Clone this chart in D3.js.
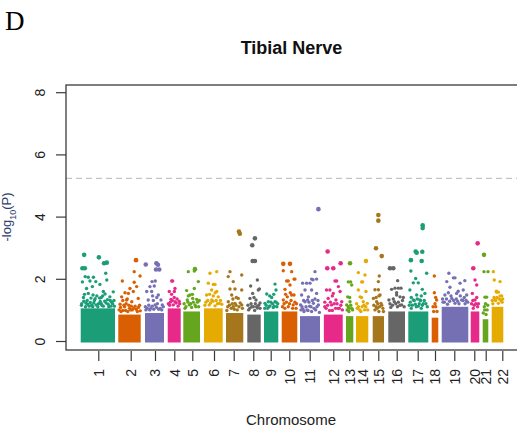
<!DOCTYPE html>
<html>
<head>
<meta charset="utf-8">
<script src="https://cdn.jsdelivr.net/npm/d3@7"></script>
<style>
  html, body { margin: 0; padding: 0; background: #fff; }
  svg { display: block; font-family: "Liberation Sans", Arial, sans-serif; }
</style>
</head>
<body>
<svg id="chart" width="517" height="436"></svg>
<script>
// Chromosome layout (cumulative genomic index units)
const chromosomes = ["1","2","3","4","5","6","7","8","9","10","11","12","13","14","15","16","17","18","19","20","21","22"];
const chromStart = [0, 263, 450, 609, 718, 863, 1017, 1166, 1283, 1407, 1535, 1702, 1857, 1927, 2044, 2153, 2293, 2457, 2527, 2730, 2814, 2877];
const chromEnd   = [240, 420, 583, 700, 835, 994, 1138, 1260, 1383, 1516, 1675, 1834, 1908, 2013, 2123, 2270, 2433, 2503, 2713, 2790, 2853, 2958];
const tickPos    = [123, 350, 520, 655, 781, 933, 1071, 1208, 1330, 1460, 1603, 1768, 1880, 1974, 2083, 2212, 2359, 2480, 2615, 2755, 2835, 2951];

// Upper limit of the densely packed bulk of SNPs per chromosome (-log10 P)
const denseTop = [1.05, 0.85, 0.9, 1.05, 0.95, 1.05, 0.9, 0.85, 0.95, 0.95, 0.8, 0.85, 0.8, 0.8, 0.8, 0.95, 0.95, 0.75, 1.1, 0.95, 0.7, 1.1];

// Individual SNPs above the bulk: [relative position within chromosome, -log10 P]
const chromHits = [
  [[.10,2.77],[.53,2.69],[.68,2.50],[.76,2.52],[.05,2.34],[.12,2.34],[.73,2.18],[.13,2.07],[.22,2.05],[.37,2.05],[.05,1.90],[.27,1.93],[.44,1.91],[.76,1.96],[.56,1.82],[.17,1.69],[.34,1.75],[.66,1.59],[.71,1.51],[.95,1.58],[.22,1.53],[.47,1.45],[.60,1.40],[.08,1.40],[.30,1.38],[.85,1.42],[.40,1.30],[.90,1.25],[.15,1.22],[.52,1.20],[.70,1.28],[.02,1.15],[.98,1.12],[.25,1.12],[.62,1.15],[.80,1.18],[.35,1.10],[.45,1.16],[.88,1.12],[.57,1.27],[.19,1.30],[.78,1.33]],
  [[.79,2.60],[.71,2.23],[.97,2.09],[.18,1.93],[.71,1.89],[.52,1.69],[.82,1.75],[.30,1.55],[.45,1.53],[.67,1.59],[.15,1.42],[.89,1.37],[.37,1.32],[.60,1.26],[.08,1.18],[.25,1.15],[.75,1.12],[.95,1.15],[.50,1.05],[.33,0.98],[.85,0.95],[.12,0.95],[.62,1.00]],
  [[.04,2.46],[.60,2.50],[.68,2.45],[.75,2.30],[.58,2.30],[.37,1.91],[.54,1.93],[.26,1.75],[.49,1.77],[.09,1.59],[.35,1.59],[.70,1.48],[.84,1.32],[.17,1.32],[.53,1.16],[.91,1.16],[.30,1.05],[.72,1.02],[.05,1.00],[.44,1.30]],
  [[.31,1.93],[.38,1.93],[.56,1.69],[.51,1.59],[.12,1.59],[.25,1.34],[.56,1.26],[.43,1.16],[.80,1.12],[.15,1.15],[.92,1.20]],
  [[.30,2.23],[.70,2.31],[.66,2.25],[.90,1.91],[.66,1.69],[.20,1.62],[.40,1.48],[.56,1.37],[.80,1.34],[.24,1.32],[.70,1.16],[.36,1.16],[.50,1.08],[.10,1.05],[.92,1.10]],
  [[.32,2.18],[.68,2.23],[.23,1.86],[.50,1.82],[.59,1.82],[.68,1.59],[.41,1.64],[.14,1.48],[.76,1.42],[.41,1.32],[.82,1.21],[.28,1.16],[.59,1.13],[.05,1.15],[.95,1.18]],
  [[.75,3.52],[.80,3.45],[.23,2.23],[.13,2.07],[.91,2.12],[.42,1.91],[.23,1.67],[.52,1.67],[.91,1.64],[.33,1.48],[.71,1.37],[.13,1.26],[.52,1.21],[.91,1.16],[.30,1.05],[.65,1.00],[.05,0.98],[.42,1.10]],
  [[.57,3.30],[.37,3.08],[.40,2.57],[.57,2.57],[.75,1.96],[.25,1.77],[.90,1.67],[.82,1.64],[.40,1.53],[.20,1.37],[.65,1.32],[.95,1.22],[.33,1.10],[.75,1.06],[.10,1.00],[.55,0.98]],
  [[.77,1.83],[.84,1.64],[.19,1.51],[.54,1.40],[.30,1.26],[.77,1.26],[.42,1.13],[.65,1.08],[.07,1.21],[.90,1.10],[.25,1.05]],
  [[.10,2.48],[.53,2.48],[.10,2.26],[.64,2.23],[.32,1.93],[.42,1.93],[.79,1.99],[.85,1.99],[.21,1.66],[.53,1.80],[.64,1.48],[.79,1.48],[.36,1.42],[.10,1.32],[.74,1.16],[.42,1.10],[.95,1.20],[.20,1.05]],
  [[.92,4.24],[.75,2.23],[.58,1.99],[.83,1.99],[.65,1.97],[.33,1.86],[.13,1.86],[.50,1.86],[.25,1.64],[.58,1.64],[.08,1.48],[.42,1.42],[.83,1.53],[.25,1.26],[.67,1.21],[.92,1.16],[.03,1.16],[.48,1.12],[.15,1.02],[.35,1.00],[.58,0.95],[.78,1.00],[.97,0.92]],
  [[.20,2.88],[.18,2.34],[.50,2.34],[.89,2.50],[.59,1.93],[.68,1.93],[.32,1.64],[.77,1.75],[.14,1.64],[.50,1.53],[.86,1.59],[.23,1.37],[.64,1.32],[.95,1.26],[.41,1.16],[.05,1.10],[.75,1.05],[.30,0.98]],
  [[.55,2.50],[.32,1.90],[.64,1.90],[.78,1.80],[.23,1.42],[.55,1.26],[.10,1.16],[.80,1.05],[.40,0.95]],
  [[.81,2.57],[.19,2.20],[.73,2.12],[.46,1.90],[.54,1.90],[.19,1.64],[.81,1.59],[.33,1.42],[.59,1.26],[.92,1.21],[.10,1.05],[.70,1.00],[.40,0.95]],
  [[.50,4.05],[.50,3.87],[.29,2.98],[.80,2.73],[.58,2.09],[.50,1.91],[.20,1.65],[.50,1.65],[.65,1.48],[.06,1.37],[.35,1.26],[.73,1.21],[.90,1.05],[.20,1.00],[.55,0.95]],
  [[.10,2.34],[.30,2.34],[.56,1.94],[.40,1.70],[.60,1.70],[.76,1.70],[.20,1.66],[.50,1.48],[.70,1.42],[.04,1.32],[.36,1.26],[.80,1.16],[.95,1.10],[.15,1.08],[.55,1.10]],
  [[.72,3.72],[.72,3.63],[.37,2.88],[.42,2.84],[.70,2.87],[.13,2.60],[.67,2.57],[.13,2.25],[.92,2.18],[.37,2.01],[.50,1.87],[.25,1.87],[.70,1.66],[.08,1.64],[.83,1.53],[.42,1.48],[.25,1.32],[.58,1.32],[.05,1.15],[.35,1.18],[.50,1.12],[.75,1.20],[.95,1.10],[.15,1.05],[.65,1.05]],
  [[.40,2.09],[.40,1.55],[.75,1.32],[.60,1.10],[.30,0.95]],
  [[.27,2.18],[.50,2.03],[.44,2.03],[.87,1.94],[.19,1.91],[.69,1.86],[.31,1.73],[.81,1.64],[.56,1.53],[.12,1.48],[.94,1.48],[.38,1.37],[.75,1.32],[.50,1.21],[.05,1.25],[.65,1.20],[.22,1.18],[.88,1.20]],
  [[.81,3.14],[.30,2.34],[.50,1.96],[.70,1.80],[.19,1.53],[.50,1.32],[.80,1.10],[.30,1.05]],
  [[.23,2.77],[.23,2.23],[.95,2.23],[.70,1.41],[.40,1.41],[.29,1.10],[.60,0.85]],
  [[.14,2.23],[.72,1.91],[.22,1.96],[.43,1.57],[.57,1.57],[.72,1.45],[.86,1.45],[.28,1.32],[.57,1.21],[.10,1.20],[.90,1.25]]
];

// SNPs crowding the upper edge of each bulk: [relative position, -log10 P]
const edgeHits = [
  [[.03,1.2],[.09,1.28],[.14,1.1],[.2,1.18],[.28,1.24],[.32,1.15],[.38,1.22],[.42,1.36],[.5,1.1],[.55,1.38],[.6,1.2],[.66,1.12],[.74,1.22],[.82,1.1],[.86,1.3],[.93,1.2],[.97,1.3],[.11,1.5],[.36,1.48],[.64,1.45]],
  [[.04,1.0],[.1,1.08],[.2,0.98],[.28,1.1],[.35,1.2],[.42,0.95],[.47,1.15],[.55,1.0],[.58,1.12],[.68,1.05],[.8,1.02],[.9,1.08],[.98,0.97],[.4,1.35],[.2,1.3]],
  [[.02,1.1],[.12,1.05],[.2,1.15],[.25,1.0],[.38,1.12],[.46,1.02],[.6,1.08],[.65,1.2],[.8,1.05],[.88,1.0],[.96,1.1],[.62,1.4],[.4,1.45]],
  [[.05,1.2],[.2,1.25],[.35,1.3],[.5,1.4],[.65,1.22],[.72,1.35],[.88,1.28],[.3,1.5]],
  [[.05,1.2],[.16,1.1],[.28,1.25],[.45,1.2],[.6,1.25],[.75,1.1],[.85,1.25],[.95,1.3],[.55,1.5],[.3,1.45]],
  [[.1,1.25],[.2,1.3],[.35,1.22],[.48,1.28],[.5,1.45],[.65,1.3],[.72,1.2],[.88,1.3],[.3,1.5],[.6,1.55]],
  [[.1,1.1],[.2,1.15],[.36,1.2],[.48,1.02],[.58,1.15],[.75,1.1],[.82,1.22],[.95,1.05],[.6,1.4],[.4,1.35]],
  [[.05,1.15],[.18,1.05],[.28,1.2],[.45,1.1],[.6,1.2],[.7,1.1],[.85,1.15],[.95,1.05],[.5,1.4]],
  [[.05,1.05],[.15,1.15],[.35,1.1],[.48,1.25],[.6,1.2],[.72,1.12],[.85,1.25],[.96,1.2],[.4,1.45],[.68,1.5]],
  [[.05,1.1],[.15,1.2],[.3,1.25],[.5,1.2],[.6,1.3],[.7,1.05],[.85,1.25],[.92,1.05],[.25,1.5],[.55,1.55]],
  [[.05,1.0],[.1,1.1],[.2,0.95],[.3,1.1],[.4,0.98],[.45,1.25],[.55,1.1],[.62,1.3],[.7,1.05],[.75,1.35],[.85,1.1],[.9,1.3],[.18,1.3],[.38,1.32]],
  [[.05,1.25],[.12,1.05],[.2,1.15],[.35,1.25],[.45,0.98],[.55,1.2],[.62,1.05],[.7,1.2],[.82,1.05],[.9,1.15],[.98,1.0],[.45,1.45]],
  [[.15,1.0],[.3,1.1],[.45,1.05],[.65,1.15],[.9,1.0],[.5,1.4]],
  [[.05,1.2],[.2,1.1],[.3,1.0],[.5,1.1],[.65,1.15],[.8,1.1],[.95,1.0],[.45,1.4]],
  [[.1,1.15],[.3,1.1],[.4,1.05],[.45,1.2],[.6,1.1],[.8,1.15],[.95,0.95],[.3,1.4],[.55,1.45]],
  [[.1,1.2],[.25,1.15],[.3,1.35],[.45,1.2],[.6,1.25],[.7,1.15],[.85,1.3],[.5,1.55],[.9,1.4]],
  [[.1,1.25],[.2,1.15],[.3,1.3],[.4,1.1],[.45,1.35],[.55,1.2],[.62,1.3],[.7,1.15],[.8,1.3],[.88,1.2],[.15,1.4],[.65,1.45]],
  [[.2,1.1],[.5,1.2],[.8,0.95],[.6,1.4]],
  [[.03,1.35],[.1,1.25],[.18,1.35],[.3,1.28],[.35,1.45],[.45,1.3],[.55,1.35],[.6,1.28],[.7,1.45],[.8,1.3],[.85,1.4],[.92,1.3],[.98,1.25],[.25,1.55],[.62,1.6]],
  [[.1,1.2],[.25,1.3],[.4,1.15],[.6,1.2],[.7,1.4],[.9,1.2]],
  [[.1,0.9],[.35,1.0],[.5,1.2],[.8,1.0],[.9,1.15]],
  [[.05,1.3],[.2,1.4],[.35,1.3],[.45,1.4],[.65,1.35],[.8,1.3],[.95,1.35],[.4,1.6]]
];

const yTicks = [0, 2, 4, 6, 8];
const suggestiveLine = 5.23;
const palette = ["#1B9E77", "#D95F02", "#7570B3", "#E7298A", "#66A61E", "#E6AB02", "#A6761D", "#666666"];

const svg = d3.select("#chart");
svg.append("rect").attr("width", 517).attr("height", 436).attr("fill", "#fff");

const box = { left: 66, right: 520, top: 85, bottom: 350 };
const x = d3.scaleLinear().domain([-103, 3075]).range([box.left, box.right]);
const y = d3.scaleLinear().domain([0, 8]).range([341, 92.2]);
const color = i => palette[i % palette.length];

// Panel letter and title
svg.append("text").attr("x", 5).attr("y", 30)
  .style("font-family", "'Liberation Serif', 'Times New Roman', serif")
  .style("font-size", "27px").attr("fill", "#000").text("D");
svg.append("text").attr("x", 291.5).attr("y", 54).attr("text-anchor", "middle")
  .style("font-size", "18px").style("font-weight", "bold").attr("fill", "#111").text("Tibial Nerve");

// Suggestive significance line
svg.append("line")
  .attr("x1", box.left).attr("x2", box.right)
  .attr("y1", y(suggestiveLine)).attr("y2", y(suggestiveLine))
  .attr("stroke", "#c4c4c4").attr("stroke-width", 1.2).attr("stroke-dasharray", "6,4");

// Dense bulk of SNPs per chromosome
const chromIdx = d3.range(chromosomes.length);
svg.append("g").selectAll("rect").data(chromIdx).join("rect")
  .attr("x", i => x(chromStart[i]))
  .attr("width", i => x(chromEnd[i]) - x(chromStart[i]))
  .attr("y", i => y(denseTop[i]))
  .attr("height", i => y(0) + 1.5 - y(denseTop[i]))
  .attr("fill", i => color(i));

// Individual SNPs
const toSnp = i => ([f, v]) => ({
  chrom: i,
  pos: chromStart[i] + f * (chromEnd[i] - chromStart[i]),
  logp: v
});
const snps = chromIdx.flatMap(i => edgeHits[i].map(toSnp(i)).concat(chromHits[i].map(toSnp(i))));
svg.append("g").selectAll("circle").data(snps).join("circle")
  .attr("cx", d => x(d.pos))
  .attr("cy", d => y(d.logp))
  .attr("r", d => d.logp >= 2.3 ? 2.3 : 1.7)
  .attr("fill", d => color(d.chrom));

// Plot frame
svg.append("rect")
  .attr("x", box.left).attr("y", box.top)
  .attr("width", box.right - box.left).attr("height", box.bottom - box.top)
  .attr("fill", "none").attr("stroke", "#3a3a3a").attr("stroke-width", 1.3);

// Y axis
const yAxis = svg.append("g").attr("transform", `translate(${box.left},0)`)
  .call(d3.axisLeft(y).tickValues(yTicks).tickSize(10).tickFormat(d3.format("d")));
yAxis.select(".domain").remove();
yAxis.selectAll("line").attr("stroke", "#3a3a3a").attr("stroke-width", 1.2);
yAxis.selectAll("text")
  .attr("x", null).attr("dy", null)
  .attr("transform", "translate(-21.5,0) rotate(-90)")
  .attr("text-anchor", "middle")
  .style("font-size", "14px").style("font-family", "'Liberation Sans', Arial, sans-serif")
  .attr("fill", "#222");

// X axis
const xAxis = svg.append("g").attr("transform", `translate(0,${box.bottom + 1})`)
  .call(d3.axisBottom(x).tickValues(tickPos).tickSize(10).tickFormat((d, i) => chromosomes[i]));
xAxis.select(".domain").remove();
xAxis.selectAll("line").attr("stroke", "#3a3a3a").attr("stroke-width", 1.2);
xAxis.selectAll("text")
  .attr("y", null).attr("dy", "0.35em")
  .attr("transform", "translate(0,18) rotate(-90)")
  .attr("text-anchor", "end")
  .style("font-size", "14px").style("font-family", "'Liberation Sans', Arial, sans-serif")
  .attr("fill", "#222");

// Axis titles
svg.append("text").attr("x", 291).attr("y", 425).attr("text-anchor", "middle")
  .style("font-size", "15px").attr("fill", "#222").text("Chromosome");
const ylab = svg.append("text")
  .attr("transform", "translate(11,217) rotate(-90)")
  .attr("text-anchor", "middle")
  .style("font-size", "13px").attr("fill", "#2c3e6b");
ylab.append("tspan").text("-log");
ylab.append("tspan").attr("baseline-shift", "sub").style("font-size", "9px").text("10");
ylab.append("tspan").text("(P)");
</script>
</body>
</html>
